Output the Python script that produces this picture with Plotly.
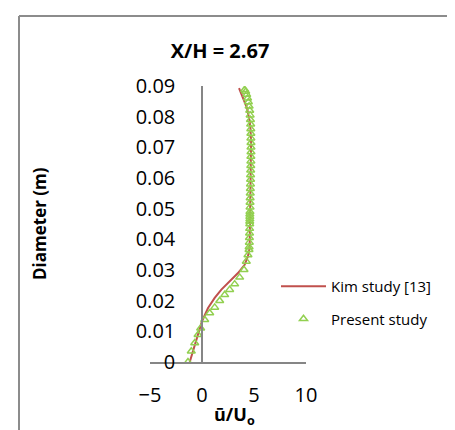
import plotly.graph_objects as go

# Kim study [13] (red line)
kim_u = [-1.18, -0.55, 0.0, 0.58, 1.22, 1.86, 2.66, 3.46, 4.10, 4.42, 4.58,
         4.62, 4.66, 4.70, 4.72, 4.66, 4.58, 4.33, 3.94, 3.56]
kim_d = [0.000, 0.0067, 0.0133, 0.0176, 0.0209, 0.0236, 0.0263, 0.029, 0.0317, 0.0345, 0.0372,
         0.045, 0.055, 0.065, 0.072, 0.076, 0.0786, 0.0828, 0.086, 0.0893]

# Present study (green triangles)
present_d = [0.000, 0.0035, 0.0062, 0.0089, 0.011, 0.0138, 0.016, 0.0178, 0.020, 0.0219,
             0.0236, 0.0254, 0.0276, 0.0301, 0.0328, 0.0349, 0.0366,
             0.0375, 0.039, 0.0405, 0.042, 0.0435, 0.045, 0.0458, 0.0466, 0.0474, 0.0482,
             0.049, 0.0505, 0.052, 0.0535, 0.055, 0.0565, 0.058, 0.0595, 0.061, 0.0625,
             0.064, 0.0655, 0.067, 0.0685, 0.070, 0.0715, 0.073, 0.0745, 0.076, 0.0775,
             0.079, 0.0805, 0.082, 0.0834, 0.0848, 0.086, 0.0872, 0.0882, 0.0888]
present_u = [-1.35, -1.03, -0.70, -0.38, -0.13, 0.26, 0.74, 1.22, 1.70, 2.18,
             2.66, 3.14, 3.62, 4.04, 4.26, 4.42, 4.52,
             4.53, 4.55, 4.56, 4.57, 4.58, 4.59, 4.59, 4.60, 4.60, 4.60,
             4.61, 4.62, 4.62, 4.63, 4.64, 4.65, 4.66, 4.67, 4.67, 4.68,
             4.69, 4.70, 4.70, 4.71, 4.71, 4.71, 4.70, 4.70, 4.69, 4.68,
             4.66, 4.63, 4.59, 4.53, 4.46, 4.38, 4.30, 4.20, 4.10]

x_ticks = [-5, 0, 5, 10]
y_ticks = [0, 0.01, 0.02, 0.03, 0.04, 0.05, 0.06, 0.07, 0.08, 0.09]
y_tick_text = ["0", "0.01", "0.02", "0.03", "0.04", "0.05", "0.06", "0.07", "0.08", "0.09"]

FONT = "Open Sans"
W, H = 455, 430
L, R, T, B = 142, 298, 78, 354  # plot area px

def px_to_paper_x(px):
    return (px - L) / (R - L)

def px_to_paper_y(py):
    return (B - py) / (B - T)

fig = go.Figure()
fig.add_trace(go.Scatter(x=kim_u, y=kim_d, mode="lines", name="Kim study [13]",
                         line=dict(color="#C0504D", width=2), legendgroup="a"))
fig.add_trace(go.Scatter(x=present_u, y=present_d, mode="markers", name="Present study",
                         marker=dict(symbol="triangle-up-open", size=7, color="#92D050",
                                     line=dict(width=1.5, color="#92D050")),
                         legendgroup="b"))

fig.update_layout(
    width=W, height=H,
    margin=dict(l=L, r=W - R, t=T, b=H - B, pad=0),
    paper_bgcolor="white", plot_bgcolor="white",
    font=dict(family=FONT, color="black"),
    showlegend=True,
    legend=dict(x=px_to_paper_x(268), y=px_to_paper_y(262), xanchor="left", yanchor="top",
                font=dict(size=15, family=FONT), traceorder="grouped", tracegroupgap=10,
                bgcolor="rgba(0,0,0,0)", itemwidth=45),
    title=dict(text="<b>X/H = 2.67</b>", x=px_to_paper_x(212), xref="paper",
               xanchor="center", y=1 - 43 / H, yanchor="middle",
               font=dict(size=20, family=FONT)),
)

fig.update_xaxes(range=[-5, 10], tickvals=x_ticks, showgrid=False, zeroline=False,
                 showline=True, linecolor="#868686", linewidth=1.5, ticks="",
                 tickfont=dict(size=20, family=FONT), ticklabelstandoff=14)

fig.update_yaxes(range=[0, 0.09], tickvals=y_ticks, ticktext=y_tick_text, showgrid=False,
                 zeroline=False, showline=True, linecolor="#868686", linewidth=1.5,
                 ticks="", anchor="free", position=px_to_paper_x(194), side="left",
                 tickfont=dict(size=20, family=FONT), ticklabelstandoff=22)

# axis titles
fig.add_annotation(text="<b>ū/U<sub>o</sub></b>", xref="paper", yref="paper",
                   x=px_to_paper_x(226), y=px_to_paper_y(407), showarrow=False,
                   xanchor="center", yanchor="middle", font=dict(size=18, family=FONT))
fig.add_annotation(text="<b>Diameter (m)</b>", textangle=-90, xref="paper", yref="paper",
                   x=px_to_paper_x(31), y=px_to_paper_y(216), showarrow=False,
                   xanchor="center", yanchor="middle", font=dict(size=17, family=FONT))

# chart border (top and left visible)
fig.add_shape(type="line", xref="paper", yref="paper",
              x0=px_to_paper_x(11), y0=px_to_paper_y(8), x1=px_to_paper_x(470), y1=px_to_paper_y(8),
              line=dict(color="#8c8c8c", width=2))
fig.add_shape(type="line", xref="paper", yref="paper",
              x0=px_to_paper_x(11), y0=px_to_paper_y(8), x1=px_to_paper_x(11), y1=px_to_paper_y(445),
              line=dict(color="#8c8c8c", width=2))

fig.write_html("out.html")
